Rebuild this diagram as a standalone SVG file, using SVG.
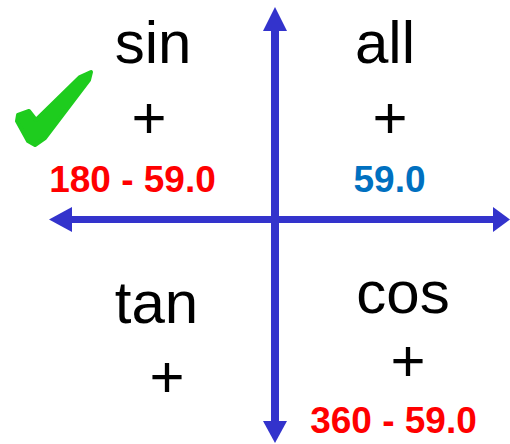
<svg xmlns="http://www.w3.org/2000/svg" width="510" height="444" viewBox="0 0 510 444">
<style>
.lbl{font-family:"Liberation Sans",Arial,sans-serif;font-size:60px;fill:#000;text-anchor:middle}
.val{font-family:"Liberation Sans",Arial,sans-serif;font-size:37px;font-weight:bold;text-anchor:middle}
.red{fill:#FF0000}
.blue{fill:#0070C0}
.axis{stroke:#3333CC;fill:none}
.head{fill:#3333CC}
</style>
<rect width="510" height="444" fill="#fff"/>
<g id="axes">
<line class="axis" x1="70" y1="219.5" x2="495" y2="219.5" stroke-width="7"/>
<line class="axis" x1="275" y1="29" x2="275" y2="424" stroke-width="8"/>
<polygon class="head" points="49,219.5 72,207 72,232"/>
<polygon class="head" points="510,219.5 493,207 493,232"/>
<polygon class="head" points="275,7 263,31 287,31"/>
<polygon class="head" points="275,443 263,421 287,421"/>
</g>
<g id="check">
<path d="M18,115 L29,111 L36,120 L80,77 L91,72 L89,80 L45,138 L35,145 L28,141 L17,121 Z" fill="#1ECC1E" stroke="#1ECC1E" stroke-width="4" stroke-linejoin="round"/>
</g>
<g id="q2">
<text class="lbl" x="153" y="63">sin</text>
<text class="lbl" x="149" y="138">+</text>
<text class="val red" x="132.5" y="192">180 - 59.0</text>
</g>
<g id="q1">
<text class="lbl" x="385" y="63">all</text>
<text class="lbl" x="390" y="138">+</text>
<text class="val blue" x="389.5" y="192">59.0</text>
</g>
<g id="q3">
<text class="lbl" x="156.5" y="323">tan</text>
<text class="lbl" x="167" y="397">+</text>
</g>
<g id="q4">
<text class="lbl" x="403" y="313">cos</text>
<text class="lbl" x="408" y="381">+</text>
<text class="val red" x="393.5" y="433">360 - 59.0</text>
</g>
</svg>
